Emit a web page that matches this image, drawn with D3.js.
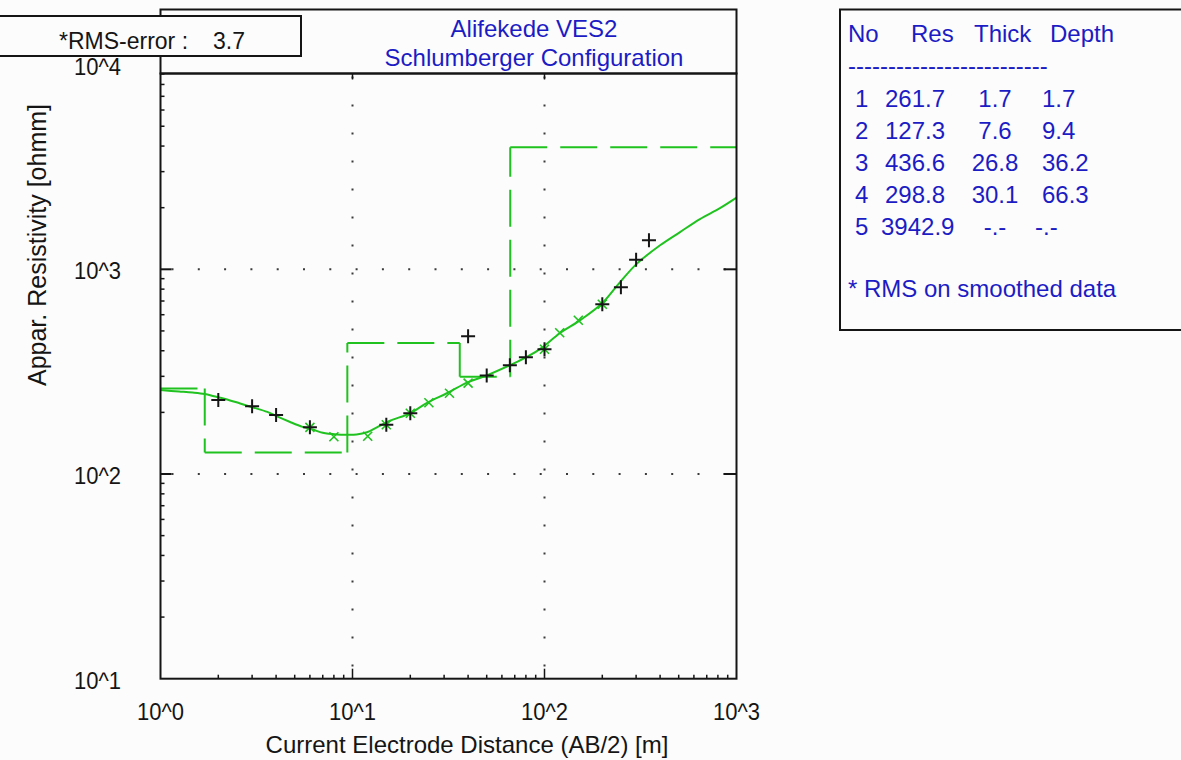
<!DOCTYPE html>
<html>
<head>
<meta charset="utf-8">
<script src="https://cdn.jsdelivr.net/npm/d3@7"></script>
<style>
  html, body { margin: 0; padding: 0; background: #fcfcfc; }
  svg { display: block; }
  text { font-family: "Liberation Sans", Arial, sans-serif; }
</style>
</head>
<body>
<svg id="chart" width="1181" height="760"></svg>
<script>
// ---- Sounding data (AB/2 in m, apparent resistivity in ohm·m) ----
const modelAb2 = [1.0, 1.25, 1.47, 1.7, 1.9, 2.2, 2.6, 3.0, 3.6, 4.1, 4.7, 5.5, 6.2, 7.0, 8.3, 9.3, 10.5, 11.9, 13.4, 15.7, 19.9, 24.7, 31, 40, 50, 66, 81, 98, 120, 153, 199, 247, 303, 400, 508, 645, 820, 1000];
const modelRho = [257, 253, 250, 246, 240, 232, 221, 212, 201, 190, 180, 170, 165, 159, 156, 155.5, 156, 160, 169, 182, 198, 224, 248, 281, 303, 340, 373, 417, 487, 563, 680, 864, 1066, 1310, 1520, 1760, 1990, 2240];

const fieldAb2 = [2, 3, 4, 6, 15, 20, 40, 50, 66, 80, 100, 200, 250, 300, 350];
const fieldRho = [230, 214, 194, 169, 174, 198, 471, 303, 340, 372, 407, 675, 817, 1115, 1386];

const smoothAb2 = [6, 8, 12, 15, 20, 25, 32, 40, 100, 120, 150, 200];
const smoothRho = [169, 152, 153, 174, 198, 223, 248, 278, 407, 490, 564, 675];

// ---- Layered model ----
const layerNo = ["1", "2", "3", "4", "5"];
const layerRes = [261.7, 127.3, 436.6, 298.8, 3942.9];
const layerThick = [1.7, 7.6, 26.8, 30.1];
const layerDepth = [1.7, 9.4, 36.2, 66.3];

// ---- Axes ----
const xTickValues = [1, 10, 100, 1000];
const xTickLabels = ["10^0", "10^1", "10^2", "10^3"];
const yTickValues = [10, 100, 1000, 10000];
const yTickLabels = ["10^1", "10^2", "10^3", "10^4"];
const xDomain = [1, 1000];
const yDomain = [10, 9048];

const titleLines = ["Alifekede VES2", "Schlumberger Configuration"];
const rmsLabel = "*RMS-error :";
const rmsValue = "3.7";
const xAxisTitle = "Current Electrode Distance (AB/2) [m]";
const yAxisTitle = "Appar. Resistivity [ohmm]";
const legendHeader = ["No", "Res", "Thick", "Depth"];
const rmsNote = "* RMS on smoothed data";

const GREEN = "#1fc21f";
const BLUE = "#1c1cc4";
const INK = "#151515";

const svg = d3.select("#chart");

const x = d3.scaleLog().domain(xDomain).range([160.5, 736.5]);
const y = d3.scaleLog().domain(yDomain).range([678.7, 73.5]);

const X0 = x(xDomain[0]), X1 = x(xDomain[1]);
const Y0 = y(yDomain[0]), Y1 = y(yDomain[1]);

// ---- Dotted grid at the inner decades ----
const gridX = xTickValues.filter(v => v > xDomain[0] && v < xDomain[1]);
const gridY = yTickValues.filter(v => v > yDomain[0] && v < yDomain[1]);

svg.append("g").selectAll("line").data(gridX).join("line")
  .attr("x1", d => x(d)).attr("x2", d => x(d))
  .attr("y1", Y1 + 3).attr("y2", Y0)
  .attr("stroke", "#3a3a3a").attr("stroke-width", 2)
  .attr("stroke-dasharray", "2 26");

svg.append("g").selectAll("line").data(gridY).join("line")
  .attr("x1", X0 + 11).attr("x2", X1)
  .attr("y1", d => y(d)).attr("y2", d => y(d))
  .attr("stroke", "#3a3a3a").attr("stroke-width", 2)
  .attr("stroke-dasharray", "2 24.3");

// ---- Tick marks ----
const minorX = [];
for (let dec = 1; dec < xDomain[1]; dec *= 10)
  for (let k = 2; k <= 9; k++) minorX.push(dec * k);
const minorY = [];
for (let dec = 10; dec < yDomain[1]; dec *= 10)
  for (let k = 2; k <= 9; k++) if (dec * k < yDomain[1]) minorY.push(dec * k);

const ticks = svg.append("g").attr("stroke", INK);
// bottom
ticks.selectAll(".bmin").data(minorX).join("line")
  .attr("x1", d => x(d)).attr("x2", d => x(d)).attr("y1", Y0).attr("y2", Y0 - 4)
  .attr("stroke-width", 1.5);
ticks.selectAll(".bmaj").data(gridX).join("line")
  .attr("x1", d => x(d)).attr("x2", d => x(d)).attr("y1", Y0).attr("y2", Y0 - 10)
  .attr("stroke-width", 1.5);
// top
ticks.selectAll(".tmaj").data(gridX).join("line")
  .attr("x1", d => x(d)).attr("x2", d => x(d)).attr("y1", Y1).attr("y2", Y1 + 6)
  .attr("stroke-width", 1.5);
// left
ticks.selectAll(".lmin").data(minorY).join("line")
  .attr("x1", X0).attr("x2", X0 + 4).attr("y1", d => y(d)).attr("y2", d => y(d))
  .attr("stroke-width", 1.5);
ticks.selectAll(".lmaj").data(gridY).join("line")
  .attr("x1", X0).attr("x2", X0 + 11).attr("y1", d => y(d)).attr("y2", d => y(d))
  .attr("stroke-width", 2);
// right
ticks.selectAll(".rmaj").data(gridY).join("line")
  .attr("x1", X1).attr("x2", X1 - 13).attr("y1", d => y(d)).attr("y2", d => y(d))
  .attr("stroke-width", 2);

// ---- Layered model as stepped dashed line (pattern restarts each segment) ----
const bounds = [xDomain[0], ...layerDepth, xDomain[1]];
const stepPts = [];
layerRes.forEach((r, i) => {
  stepPts.push([bounds[i], r]);
  stepPts.push([bounds[i + 1], r]);
});
const stepSegs = d3.pairs(stepPts);
svg.append("g").selectAll("line").data(stepSegs).join("line")
  .attr("x1", d => x(d[0][0])).attr("y1", d => y(d[0][1]))
  .attr("x2", d => x(d[1][0])).attr("y2", d => y(d[1][1]))
  .attr("stroke", GREEN).attr("stroke-width", 2)
  .attr("stroke-dasharray", "37 13");

// ---- Model response curve ----
const line = d3.line()
  .x(d => x(d[0])).y(d => y(d[1]))
  .curve(d3.curveCatmullRom.alpha(0.5));
svg.append("path")
  .datum(d3.zip(modelAb2, modelRho))
  .attr("d", line)
  .attr("fill", "none").attr("stroke", GREEN).attr("stroke-width", 2);

// ---- Smoothed data (green x) ----
svg.append("g").selectAll("path").data(d3.zip(smoothAb2, smoothRho)).join("path")
  .attr("transform", d => `translate(${x(d[0])},${y(d[1])})`)
  .attr("d", "M-4.5,-4.5L4.5,4.5M-4.5,4.5L4.5,-4.5")
  .attr("stroke", GREEN).attr("stroke-width", 1.6).attr("fill", "none");

// ---- Field data (black +) ----
svg.append("g").selectAll("path").data(d3.zip(fieldAb2, fieldRho)).join("path")
  .attr("transform", d => `translate(${x(d[0])},${y(d[1])})`)
  .attr("d", "M-7,0H7M0,-7V7")
  .attr("stroke", INK).attr("stroke-width", 2).attr("fill", "none");

// ---- Plot frame and title box ----
svg.append("rect")
  .attr("x", X0).attr("y", Y1).attr("width", X1 - X0).attr("height", Y0 - Y1)
  .attr("fill", "none").attr("stroke", INK).attr("stroke-width", 2);
svg.append("rect")
  .attr("x", X0).attr("y", 9.5).attr("width", X1 - X0).attr("height", Y1 - 9.5)
  .attr("fill", "none").attr("stroke", INK).attr("stroke-width", 2);

svg.append("g").selectAll("text").data(titleLines).join("text")
  .attr("x", 534).attr("y", (d, i) => 37 + i * 29)
  .attr("text-anchor", "middle").attr("font-size", 24).attr("fill", BLUE)
  .text(d => d);

// ---- Tick labels (slightly tall face) ----
svg.append("g").selectAll("text").data(xTickValues).join("text")
  .attr("transform", d => `translate(${x(d)},720) scale(1,1.12)`)
  .attr("text-anchor", "middle").attr("font-size", 22).attr("fill", INK)
  .text((d, i) => xTickLabels[i]);
svg.append("g").selectAll("text").data(yTickValues).join("text")
  .attr("transform", d => `translate(121,${y(d) + 10}) scale(1,1.12)`)
  .attr("text-anchor", "end").attr("font-size", 22).attr("fill", INK)
  .text((d, i) => yTickLabels[i]);

// ---- Axis titles ----
svg.append("text")
  .attr("x", 467).attr("y", 753)
  .attr("text-anchor", "middle").attr("font-size", 24).attr("fill", INK)
  .text(xAxisTitle);
svg.append("text")
  .attr("transform", "translate(46,245) rotate(-90)")
  .attr("text-anchor", "middle").attr("font-size", 25).attr("fill", INK)
  .text(yAxisTitle);

// ---- RMS box ----
svg.append("rect")
  .attr("x", -10).attr("y", 16).attr("width", 311).attr("height", 40)
  .attr("fill", "#fcfcfc").attr("stroke", INK).attr("stroke-width", 2);
svg.append("text").attr("x", 59).attr("y", 49).attr("font-size", 23).attr("fill", INK).text(rmsLabel);
svg.append("text").attr("x", 213).attr("y", 49).attr("font-size", 23).attr("fill", INK).text(rmsValue);

// ---- Model parameter table ----
const legend = svg.append("g");
legend.append("rect")
  .attr("x", 840).attr("y", 9.5).attr("width", 400).attr("height", 320.5)
  .attr("fill", "#fcfcfc").attr("stroke", INK).attr("stroke-width", 2);

const headerX = [848, 911, 974, 1050];
legend.selectAll(".hdr").data(legendHeader).join("text")
  .attr("x", (d, i) => headerX[i]).attr("y", 42)
  .attr("font-size", 24).attr("fill", BLUE).text(d => d);
legend.append("text").attr("x", 848).attr("y", 74)
  .attr("font-size", 24).attr("fill", BLUE).text("-------------------------");

const rowY = i => 107 + i * 32;
legend.selectAll(".no").data(layerNo).join("text")
  .attr("x", 855).attr("y", (d, i) => rowY(i))
  .attr("font-size", 24).attr("fill", BLUE).text(d => d);
legend.selectAll(".res").data(layerRes).join("text")
  .attr("x", (d, i) => i < layerThick.length ? 885 : 881).attr("y", (d, i) => rowY(i))
  .attr("font-size", 24).attr("fill", BLUE).text(d => d.toFixed(1));
legend.selectAll(".thk").data(layerRes).join("text")
  .attr("x", 995).attr("y", (d, i) => rowY(i)).attr("text-anchor", "middle")
  .attr("font-size", 24).attr("fill", BLUE)
  .text((d, i) => i < layerThick.length ? layerThick[i].toFixed(1) : "-.-");
legend.selectAll(".dep").data(layerRes).join("text")
  .attr("x", (d, i) => i < layerDepth.length ? 1042 : 1035).attr("y", (d, i) => rowY(i))
  .attr("font-size", 24).attr("fill", BLUE)
  .text((d, i) => i < layerDepth.length ? layerDepth[i].toFixed(1) : "-.-");

legend.append("text").attr("x", 848).attr("y", 297)
  .attr("font-size", 24).attr("fill", BLUE).text(rmsNote);
</script>
</body>
</html>
